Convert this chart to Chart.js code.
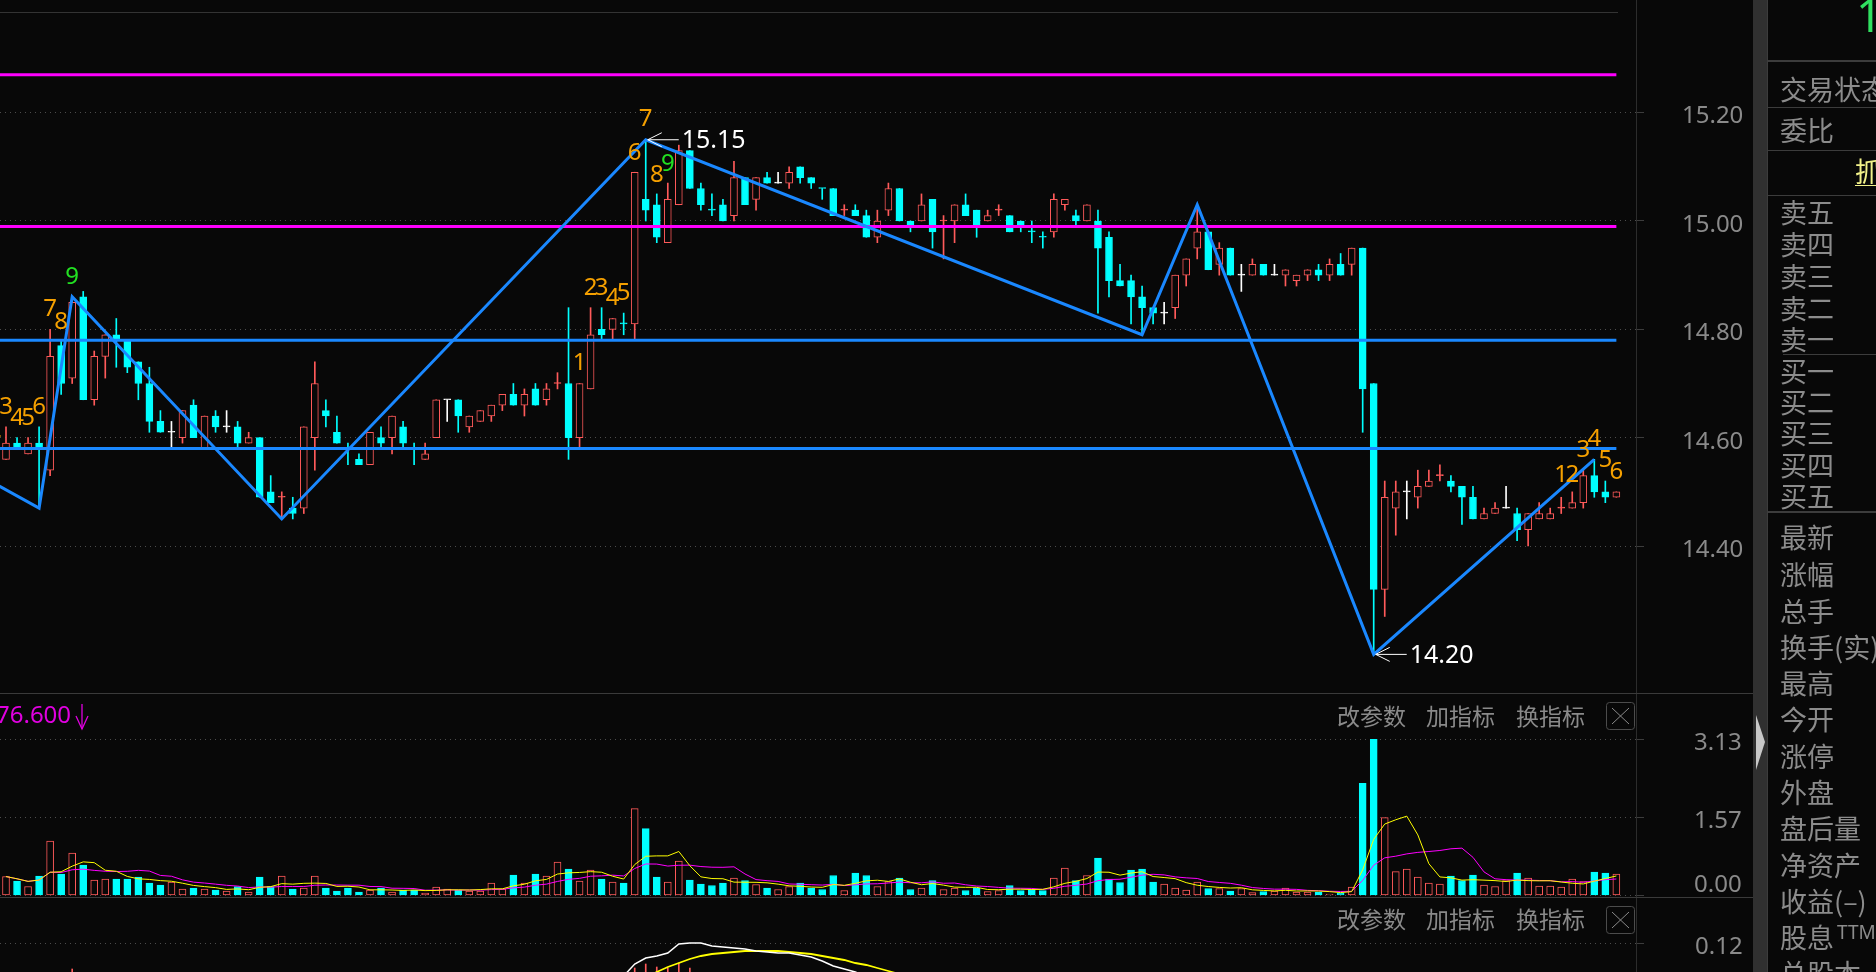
<!DOCTYPE html>
<html>
<head>
<meta charset="utf-8">
<script src="https://cdn.jsdelivr.net/npm/chart.js@4.4.1/dist/chart.umd.min.js"></script>
<style>
  html, body { margin: 0; padding: 0; background: #080808; overflow: hidden; }
  #stage { position: relative; width: 1876px; height: 972px; overflow: hidden; background: #080808;
           font-family: "Noto Sans CJK SC", "Noto Sans", sans-serif; }
  canvas { position: absolute; left: 0; }
  .ln { position: absolute; background: #343434; }
  .t { position: absolute; white-space: nowrap; line-height: 1; }
  .rp { left: 1780px; font-size: 27px; color: #8c8c8c; }
  .btn { font-size: 23px; color: #8a8a8a; }
  svg { position: absolute; overflow: visible; }
</style>
</head>
<body>
<div id="stage">
  <canvas id="priceChart" width="1753" height="681" style="top:12px"></canvas>
  <canvas id="volChart" width="1753" height="204" style="top:693px"></canvas>
  <canvas id="subChart" width="1753" height="203" style="top:897px"></canvas>

  <!-- frame lines -->
  <div class="ln" style="left:0;top:12px;width:1618px;height:1px;background:#333"></div>
  <div class="ln" style="left:1636px;top:0;width:1px;height:972px;background:#2c2c2c"></div>
  <div class="ln" style="left:0;top:693px;width:1753px;height:1px;background:#3a3a3a"></div>
  <div class="ln" style="left:0;top:897px;width:1753px;height:1px;background:#3a3a3a"></div>
  <div class="ln" style="left:1753px;top:0;width:15px;height:972px;background:#303030"></div>
  <div class="ln" style="left:1767px;top:0;width:1px;height:972px;background:#3c3c3c"></div>
  <svg style="left:0;top:0" width="1876" height="972">
    <polygon points="1756,715 1765,742 1756,770" fill="#c8c8c8"/>
    <line x1="82" y1="704" x2="82" y2="729" stroke="#e000e0" stroke-width="1.3"/>
    <polyline points="76,716 82,729 88,716" fill="none" stroke="#e000e0" stroke-width="1.3"/>
    <rect x="1606.5" y="702.5" width="28" height="27" rx="3" fill="none" stroke="#4c4c4c"/>
    <line x1="1612" y1="708" x2="1629" y2="724" stroke="#8a8a8a" stroke-width="1"/>
    <line x1="1629" y1="708" x2="1612" y2="724" stroke="#8a8a8a" stroke-width="1"/>
    <rect x="1606.5" y="906.5" width="28" height="27" rx="3" fill="none" stroke="#4c4c4c"/>
    <line x1="1612" y1="912" x2="1629" y2="928" stroke="#8a8a8a" stroke-width="1"/>
    <line x1="1629" y1="912" x2="1612" y2="928" stroke="#8a8a8a" stroke-width="1"/>
  </svg>

  <!-- right quote panel -->
  <div class="ln" style="left:1768px;top:60px;width:108px;height:2px;background:#3c3c3c"></div>
  <div class="ln" style="left:1768px;top:107px;width:108px;height:1px;background:#3c3c3c"></div>
  <div class="ln" style="left:1768px;top:150px;width:108px;height:1px;background:#3c3c3c"></div>
  <div class="ln" style="left:1768px;top:195px;width:108px;height:1px;background:#3c3c3c"></div>
  <div class="ln" style="left:1783px;top:354px;width:93px;height:1px;background:#3c3c3c"></div>
  <div class="ln" style="left:1768px;top:511px;width:108px;height:2px;background:#3c3c3c"></div>
  <div class="t" style="left:1856px;top:-9px;font-size:46px;color:#30e060;font-family:'Noto Sans'">14.50</div>
  <div class="t rp" style="top:75px">交易状态</div>
  <div class="t rp" style="top:116px">委比</div>
  <div class="t" style="left:1855px;top:157px;font-size:27px;color:#f2f28a">抓</div>
  <div class="ln" style="left:1855px;top:185px;width:21px;height:1px;background:#f2f28a"></div>
  <div class="t rp" style="top:198px">卖五</div>
  <div class="t rp" style="top:230px">卖四</div>
  <div class="t rp" style="top:262px">卖三</div>
  <div class="t rp" style="top:294px">卖二</div>
  <div class="t rp" style="top:325px">卖一</div>
  <div class="t rp" style="top:357px">买一</div>
  <div class="t rp" style="top:388px">买二</div>
  <div class="t rp" style="top:419px">买三</div>
  <div class="t rp" style="top:451px">买四</div>
  <div class="t rp" style="top:482px">买五</div>
  <div class="t rp" style="top:523px">最新</div>
  <div class="t rp" style="top:560px">涨幅</div>
  <div class="t rp" style="top:597px">总手</div>
  <div class="t rp" style="top:633px">换手(实)</div>
  <div class="t rp" style="top:669px">最高</div>
  <div class="t rp" style="top:705px">今开</div>
  <div class="t rp" style="top:742px">涨停</div>
  <div class="t rp" style="top:778px">外盘</div>
  <div class="t rp" style="top:814px">盘后量</div>
  <div class="t rp" style="top:851px">净资产</div>
  <div class="t rp" style="top:887px">收益(–)</div>
  <div class="t rp" style="top:923px">股息<span style="font-family:'Noto Sans';font-size:19px;position:relative;top:-9px;margin-left:3px">TTM</span></div>
  <div class="t rp" style="top:959px">总股本</div>

  <!-- panel captions -->
  <div class="t" style="left:-4px;top:702px;font-size:24px;color:#e000e0;font-family:'Noto Sans'">76.600</div>
  <div class="t btn" style="left:1337px;top:704px">改参数</div>
  <div class="t btn" style="left:1426px;top:704px">加指标</div>
  <div class="t btn" style="left:1516px;top:704px">换指标</div>
  <div class="t btn" style="left:1337px;top:907px">改参数</div>
  <div class="t btn" style="left:1426px;top:907px">加指标</div>
  <div class="t btn" style="left:1516px;top:907px">换指标</div>
</div>

<script>
// ---- candle data (one entry per bar, left to right) ----
const opens = [
  14.56, 14.59, 14.57, 14.59, 14.54, 14.77, 14.71, 14.86, 14.67, 14.75,
  14.79, 14.78, 14.74, 14.70, 14.63, 14.61, 14.60, 14.66, 14.58, 14.64,
  14.62, 14.62, 14.59, 14.60, 14.50, 14.49, 14.47, 14.47, 14.60, 14.65,
  14.61, 14.58, 14.56, 14.55, 14.60, 14.60, 14.62, 14.58, 14.56, 14.60,
  14.67, 14.67, 14.62, 14.63, 14.64, 14.66, 14.68, 14.66, 14.69, 14.67,
  14.70, 14.70, 14.60, 14.69, 14.80, 14.80, 14.81, 14.81, 15.04, 15.03,
  14.96, 15.03, 15.13, 15.06, 15.02, 15.03, 15.01, 15.08, 15.04, 15.08,
  15.07, 15.07, 15.10, 15.08, 15.06, 15.06, 15.02, 15.02, 15.01, 14.97,
  15.02, 15.06, 15.00, 15.00, 15.04, 15.00, 15.00, 15.03, 15.02, 15.00,
  15.02, 15.01, 15.00, 14.98, 14.97, 14.98, 15.03, 15.01, 15.00, 15.00,
  14.97, 14.89, 14.89, 14.86, 14.84, 14.83, 14.84, 14.90, 14.95, 14.98,
  14.92, 14.95, 14.90, 14.90, 14.92, 14.90, 14.90, 14.89, 14.90, 14.91,
  14.90, 14.92, 14.92, 14.95, 14.70, 14.32, 14.47, 14.50, 14.49, 14.51,
  14.53, 14.52, 14.51, 14.49, 14.45, 14.46, 14.47, 14.46, 14.43, 14.45,
  14.45, 14.47, 14.47, 14.48, 14.53, 14.50, 14.49
];
const highs = [
  14.62, 14.60, 14.60, 14.62, 14.80, 14.78, 14.86, 14.87, 14.76, 14.79,
  14.82, 14.78, 14.74, 14.73, 14.65, 14.63, 14.65, 14.67, 14.64, 14.65,
  14.65, 14.63, 14.61, 14.60, 14.53, 14.50, 14.49, 14.62, 14.74, 14.67,
  14.64, 14.59, 14.57, 14.61, 14.62, 14.64, 14.63, 14.59, 14.59, 14.67,
  14.67, 14.67, 14.64, 14.65, 14.66, 14.68, 14.70, 14.69, 14.70, 14.70,
  14.72, 14.84, 14.70, 14.84, 14.84, 14.82, 14.83, 15.09, 15.15, 15.05,
  15.07, 15.14, 15.13, 15.07, 15.05, 15.04, 15.11, 15.08, 15.08, 15.09,
  15.09, 15.10, 15.10, 15.08, 15.06, 15.06, 15.03, 15.03, 15.02, 15.02,
  15.07, 15.06, 15.00, 15.05, 15.04, 15.01, 15.03, 15.05, 15.02, 15.02,
  15.03, 15.01, 15.00, 15.00, 14.98, 15.05, 15.04, 15.02, 15.03, 15.02,
  14.98, 14.92, 14.90, 14.88, 14.84, 14.85, 14.90, 14.93, 15.03, 14.98,
  14.96, 14.95, 14.92, 14.93, 14.92, 14.92, 14.91, 14.90, 14.91, 14.92,
  14.93, 14.94, 14.95, 14.95, 14.70, 14.52, 14.52, 14.52, 14.54, 14.54,
  14.55, 14.53, 14.51, 14.51, 14.47, 14.48, 14.51, 14.47, 14.46, 14.48,
  14.47, 14.49, 14.50, 14.54, 14.56, 14.52, 14.50
];
const lows = [
  14.56, 14.58, 14.57, 14.47, 14.53, 14.68, 14.70, 14.67, 14.66, 14.71,
  14.73, 14.72, 14.67, 14.61, 14.61, 14.58, 14.59, 14.60, 14.58, 14.61,
  14.61, 14.58, 14.59, 14.49, 14.48, 14.45, 14.45, 14.46, 14.54, 14.62,
  14.59, 14.55, 14.55, 14.55, 14.58, 14.57, 14.58, 14.55, 14.56, 14.60,
  14.63, 14.61, 14.61, 14.63, 14.63, 14.65, 14.66, 14.64, 14.66, 14.66,
  14.69, 14.56, 14.58, 14.69, 14.78, 14.78, 14.79, 14.78, 15.00, 14.96,
  14.96, 15.03, 15.06, 15.02, 15.01, 15.00, 15.00, 15.03, 15.02, 15.07,
  15.07, 15.06, 15.07, 15.06, 15.04, 15.01, 15.01, 15.01, 14.97, 14.96,
  15.01, 15.00, 14.98, 15.00, 14.95, 14.93, 14.96, 15.01, 14.97, 15.00,
  15.01, 14.98, 14.98, 14.96, 14.95, 14.97, 15.02, 14.99, 15.00, 14.83,
  14.86, 14.88, 14.81, 14.79, 14.81, 14.81, 14.82, 14.88, 14.93, 14.91,
  14.90, 14.90, 14.87, 14.90, 14.90, 14.90, 14.88, 14.88, 14.89, 14.89,
  14.89, 14.90, 14.90, 14.61, 14.20, 14.27, 14.42, 14.45, 14.47, 14.51,
  14.52, 14.50, 14.44, 14.45, 14.45, 14.46, 14.47, 14.41, 14.40, 14.45,
  14.45, 14.46, 14.47, 14.47, 14.49, 14.48, 14.49
];
const closes = [
  14.59, 14.58, 14.59, 14.58, 14.75, 14.70, 14.85, 14.67, 14.75, 14.79,
  14.78, 14.73, 14.70, 14.63, 14.61, 14.61, 14.65, 14.60, 14.64, 14.62,
  14.62, 14.59, 14.60, 14.49, 14.48, 14.49, 14.46, 14.62, 14.70, 14.64,
  14.59, 14.58, 14.55, 14.61, 14.59, 14.64, 14.59, 14.58, 14.57, 14.67,
  14.67, 14.64, 14.64, 14.65, 14.66, 14.68, 14.66, 14.68, 14.66, 14.69,
  14.70, 14.60, 14.70, 14.79, 14.79, 14.82, 14.81, 15.09, 15.02, 14.97,
  15.04, 15.13, 15.06, 15.03, 15.02, 15.00, 15.08, 15.03, 15.08, 15.07,
  15.07, 15.09, 15.08, 15.07, 15.06, 15.01, 15.02, 15.01, 14.97, 15.00,
  15.06, 15.00, 14.99, 15.03, 14.98, 15.00, 15.03, 15.01, 14.99, 15.01,
  15.02, 14.98, 14.99, 14.98, 14.97, 15.04, 15.04, 15.00, 15.03, 14.95,
  14.89, 14.88, 14.86, 14.84, 14.83, 14.83, 14.90, 14.93, 14.98, 14.91,
  14.95, 14.90, 14.90, 14.92, 14.90, 14.90, 14.91, 14.90, 14.91, 14.90,
  14.92, 14.90, 14.95, 14.69, 14.32, 14.49, 14.50, 14.50, 14.51, 14.52,
  14.53, 14.51, 14.49, 14.45, 14.46, 14.47, 14.47, 14.43, 14.46, 14.46,
  14.46, 14.47, 14.48, 14.53, 14.50, 14.49, 14.50
];
// volume in the same order (axis units as labelled)
const volumes = [
  0.38, 0.29, 0.18, 0.39, 1.09, 0.43, 0.85, 0.61, 0.31, 0.33,
  0.33, 0.33, 0.37, 0.25, 0.21, 0.27, 0.13, 0.15, 0.13, 0.11,
  0.09, 0.18, 0.07, 0.37, 0.18, 0.39, 0.13, 0.15, 0.39, 0.15,
  0.09, 0.15, 0.07, 0.11, 0.15, 0.07, 0.11, 0.11, 0.05, 0.17,
  0.13, 0.11, 0.09, 0.09, 0.25, 0.13, 0.41, 0.25, 0.43, 0.39,
  0.67, 0.53, 0.29, 0.51, 0.33, 0.27, 0.25, 1.74, 1.34, 0.37,
  0.27, 0.69, 0.31, 0.23, 0.20, 0.25, 0.35, 0.30, 0.22, 0.15,
  0.12, 0.18, 0.25, 0.15, 0.12, 0.40, 0.10, 0.45, 0.40, 0.18,
  0.28, 0.35, 0.12, 0.15, 0.30, 0.12, 0.15, 0.10, 0.15, 0.08,
  0.10, 0.20, 0.10, 0.12, 0.10, 0.35, 0.55, 0.30, 0.40, 0.75,
  0.33, 0.26, 0.51, 0.53, 0.27, 0.23, 0.15, 0.11, 0.27, 0.14,
  0.14, 0.09, 0.14, 0.06, 0.08, 0.09, 0.15, 0.07, 0.07, 0.07,
  0.03, 0.05, 0.17, 2.25, 3.13, 1.56, 0.48, 0.53, 0.37, 0.25,
  0.23, 0.39, 0.30, 0.41, 0.21, 0.18, 0.30, 0.45, 0.35, 0.19,
  0.19, 0.17, 0.33, 0.28, 0.47, 0.45, 0.43
];

// axis ticks
const priceTicks = [14.40, 14.60, 14.80, 15.00, 15.20];
const volTicks = [0, 1.565, 3.13];
const volTickLabels = ['0.00', '1.57', '3.13'];
const subTicks = [0.12];

// overlay lines (index, price)
const zigIndex = [-1, 3, 6, 25, 58, 103, 108, 124, 144];
const zigPrice = [14.515, 14.47, 14.86, 14.45, 15.15, 14.79, 15.03, 14.20, 14.56];
const blueLevels = [14.78, 14.58];
const magentaLevels = [15.27, 14.99];

// sequence counts shown over the bars
const tdIndex = [-1, 0, 1, 2, 3, 4, 5, 6, 52, 53, 54, 55, 56, 57, 58, 59, 60, 141, 142, 143, 144, 145, 146];
const tdText  = ['2','3','4','5','6','7','8','9','1','2','3','4','5','6','7','8','9','1','2','3','4','5','6'];
const tdPrice = [14.614, 14.657, 14.636, 14.636, 14.657, 14.838, 14.814, 14.896,
                 14.737, 14.876, 14.876, 14.857, 14.867, 15.125, 15.188, 15.085, 15.105,
                 14.531, 14.531, 14.577, 14.597, 14.559, 14.537];
const calloutIndex = [58, 124];
const calloutPrice = [15.15, 14.20];

// lower indicator (only the visible part)
const subWhiteStart = 55;
const subWhite = [0.075, 0.087, 0.099, 0.105, 0.107, 0.110, 0.119, 0.120, 0.120, 0.117, 0.116, 0.115,
                  0.114, 0.112, 0.111, 0.110, 0.110, 0.108, 0.106, 0.102, 0.097, 0.094, 0.091, 0.086, 0.080];
const subYellowStart = 57;
const subYellow = [0.080, 0.086, 0.091, 0.096, 0.100, 0.104, 0.107, 0.109, 0.110, 0.111, 0.112, 0.112, 0.112,
                   0.112, 0.111, 0.110, 0.109, 0.107, 0.105, 0.103, 0.100, 0.098, 0.095, 0.092, 0.089, 0.086, 0.080];
const subBarIndex = [6, 57, 58, 59, 60, 61, 62];
const subBarTop = [0.094, 0.095, 0.099, 0.096, 0.095, 0.100, 0.095];

const UP = '#ff5a5a', DOWN = '#00ffff', FLAT = '#ffffff', BG = '#080808';
const BLUE = '#1a88ff', MAG = '#ff00ff';
const X_MIN = -0.544, X_MAX = 147.78;

Chart.defaults.font.family = 'Noto Sans';

const idx = opens.map((_, i) => i);

function candleColor(i) {
    if (closes[i] > opens[i]) return UP;
    if (closes[i] < opens[i]) return DOWN;
    const prev = i > 0 ? closes[i - 1] : closes[i];
    if (closes[i] > prev) return UP;
    if (closes[i] < prev) return DOWN;
    return FLAT;
}
const colors = idx.map(candleColor);
const volColors = colors.map(c => c === FLAT ? UP : c);

function movingAvg(arr, n) {
    return arr.map((_, i) => {
        const s = arr.slice(Math.max(0, i - n + 1), i + 1);
        return s.reduce((a, b) => a + b, 0) / s.length;
    });
}

// right-hand value axis with a fixed width; labels start at a fixed gap
function yAxis(min, max, ticks, fmt, gap) {
    return {
        position: 'right', min: min, max: max,
        afterFit: s => { s.width = 117; s.paddingTop = 0; s.paddingBottom = 0; },
        afterBuildTicks: s => { s.ticks = ticks.map(v => ({ value: v })); },
        ticks: {
            color: '#8a8a8a', padding: gap, crossAlign: 'near', labelOffset: 4,
            font: { family: 'Noto Sans', size: 24 },
            callback: fmt
        },
        grid: { color: '#4c4c4c', tickColor: '#3c3c3c', tickLength: 8, lineWidth: 1 },
        border: { display: false, dash: [1, 4] }
    };
}

function baseOptions(yScale) {
    return {
        responsive: false, animation: false, devicePixelRatio: 1,
        layout: { padding: 0, autoPadding: false },
        plugins: { legend: { display: false }, tooltip: { enabled: false } },
        scales: {
            x: { type: 'linear', min: X_MIN, max: X_MAX, offset: false, display: false },
            y: yScale
        }
    };
}

function levelLine(v, color) {
    return {
        type: 'line', data: [{ x: -1, y: v }, { x: 146, y: v }],
        borderColor: color, borderWidth: 3, pointRadius: 0, order: 1
    };
}

// text marks on the price panel
const priceMarks = {
    id: 'priceMarks',
    afterDatasetsDraw(chart) {
        const { ctx, scales: { x, y } } = chart;
        ctx.save();
        ctx.font = '24px "Noto Sans"';
        ctx.textAlign = 'center';
        ctx.textBaseline = 'middle';
        tdIndex.forEach((i, k) => {
            ctx.fillStyle = tdText[k] === '9' ? '#22e022' : '#f5a000';
            ctx.fillText(tdText[k], x.getPixelForValue(i), y.getPixelForValue(tdPrice[k]));
        });
        ctx.strokeStyle = '#ffffff';
        ctx.fillStyle = '#ffffff';
        ctx.lineWidth = 1;
        ctx.font = '25px "Noto Sans"';
        ctx.textAlign = 'left';
        calloutIndex.forEach((i, k) => {
            const px = x.getPixelForValue(i) + 2, py = y.getPixelForValue(calloutPrice[k]);
            ctx.beginPath();
            ctx.moveTo(px + 14, py - 7); ctx.lineTo(px, py); ctx.lineTo(px + 14, py + 7);
            ctx.moveTo(px, py); ctx.lineTo(px + 31, py);
            ctx.stroke();
            ctx.fillText(calloutPrice[k].toFixed(2), px + 34, py + 1);
        });
        ctx.restore();
    }
};

new Chart(document.getElementById('priceChart'), {
    type: 'bar',
    data: {
        datasets: [
            {
                data: idx.map(i => ({ x: i, y: [lows[i], highs[i]] })),
                backgroundColor: colors, barThickness: 1, grouped: false, order: 5
            },
            {
                data: idx.map(i => ({ x: i, y: [opens[i], closes[i]] })),
                backgroundColor: idx.map(i => (colors[i] === DOWN ? DOWN : (closes[i] > opens[i] ? BG : colors[i]))),
                borderColor: colors, borderWidth: 1, borderSkipped: false,
                barThickness: 7, minBarLength: 1, grouped: false, order: 4
            },
            levelLine(magentaLevels[0], MAG),
            levelLine(magentaLevels[1], MAG),
            levelLine(blueLevels[0], BLUE),
            levelLine(blueLevels[1], BLUE),
            {
                type: 'line', data: zigIndex.map((i, k) => ({ x: i, y: zigPrice[k] })),
                borderColor: BLUE, borderWidth: 3, pointRadius: 0, order: 0
            }
        ]
    },
    options: baseOptions(yAxis(14.1287, 15.3858, priceTicks, v => v.toFixed(2), 38)),
    plugins: [priceMarks]
});

new Chart(document.getElementById('volChart'), {
    type: 'bar',
    data: {
        datasets: [
            {
                data: idx.map(i => ({ x: i, y: volumes[i] })),
                backgroundColor: volColors.map(c => c === UP ? BG : c),
                borderColor: volColors, borderWidth: 1, borderSkipped: false,
                barThickness: 7, grouped: false, order: 3
            },
            {
                type: 'line', data: movingAvg(volumes, 5).map((v, i) => ({ x: i, y: v })),
                borderColor: '#ffff00', borderWidth: 1, pointRadius: 0, order: 1
            },
            {
                type: 'line', data: movingAvg(volumes, 10).map((v, i) => ({ x: i, y: v })),
                borderColor: MAG, borderWidth: 1, pointRadius: 0, order: 2
            }
        ]
    },
    options: baseOptions(yAxis(-0.030, 4.058, volTicks, (v) => {
        const k = volTicks.indexOf(v);
        return k === 0 ? [volTickLabels[0], ''] : volTickLabels[k];
    }, 50))
});

new Chart(document.getElementById('subChart'), {
    type: 'bar',
    data: {
        datasets: [
            {
                data: subBarIndex.map((i, k) => ({ x: i, y: [-0.05, subBarTop[k]] })),
                backgroundColor: UP, barThickness: 1, grouped: false, order: 3
            },
            {
                type: 'line', data: subWhite.map((v, k) => ({ x: subWhiteStart + k, y: v })),
                borderColor: '#ffffff', borderWidth: 1.5, pointRadius: 0, order: 1
            },
            {
                type: 'line', data: subYellow.map((v, k) => ({ x: subYellowStart + k, y: v })),
                borderColor: '#ffff00', borderWidth: 1.8, pointRadius: 0, order: 2
            }
        ]
    },
    options: baseOptions(yAxis(-0.037, 0.166, subTicks, v => v.toFixed(2), 51))
});
</script>
</body>
</html>
